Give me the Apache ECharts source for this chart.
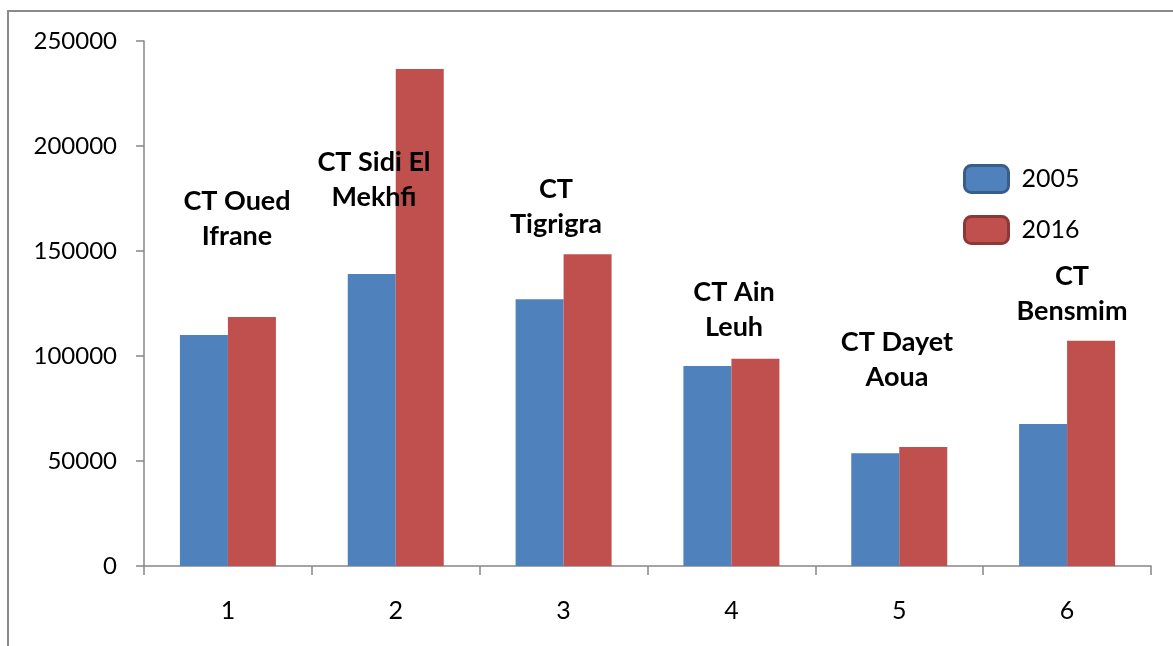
<!DOCTYPE html>
<html>
<head>
<meta charset="utf-8">
<script src="https://cdn.jsdelivr.net/npm/echarts@6/dist/echarts.min.js"></script>
<style>
  html, body { margin: 0; padding: 0; background: #ffffff; }
  #chart { width: 1173px; height: 646px; }
</style>
</head>
<body>
<div id="chart"></div>
<script>
// Station indices along the x axis
const categories = ['1', '2', '3', '4', '5', '6'];
// Values per station for each year
const values2005 = [110000, 139000, 127000, 95200, 53700, 67600];
const values2016 = [118600, 236700, 148400, 98700, 56700, 107300];
// Station names written above each group
const stationNames = [
  'CT Oued\nIfrane',
  'CT Sidi El\nMekhfi',
  'CT\nTigrigra',
  'CT Ain\nLeuh',
  'CT Dayet\nAoua',
  'CT\nBensmim'
];
const yTicks = { min: 0, max: 250000, interval: 50000 };

const FONT = 'Lato';
const AXIS = '#868686';

// Centre of each station name block, in pixels
const namePos = [[237, 219], [374, 180], [556, 207], [734, 310], [897, 360], [1072, 294]];

const chart = echarts.init(document.getElementById('chart'));

chart.setOption({
  animation: false,
  backgroundColor: '#ffffff',
  textStyle: { fontFamily: FONT },
  grid: { left: 144, right: 22, top: 41, bottom: 80, containLabel: false },
  legend: {
    left: 958,
    top: 159,
    orient: 'vertical',
    itemWidth: 44,
    itemHeight: 27,
    itemGap: 21,
    icon: 'roundRect',
    textStyle: { fontFamily: FONT, fontSize: 25, color: '#000', padding: [0, 0, 0, 8] },
    data: [
      { name: '2005', itemStyle: { color: '#4f81bd', borderColor: '#385d8a', borderWidth: 3 } },
      { name: '2016', itemStyle: { color: '#c0504d', borderColor: '#8c3836', borderWidth: 3 } }
    ]
  },
  xAxis: {
    type: 'category',
    data: categories,
    boundaryGap: true,
    axisLine: { lineStyle: { color: AXIS, width: 1.5 } },
    axisTick: { show: true, length: 9, lineStyle: { color: AXIS, width: 1.5 } },
    axisLabel: { margin: 32, fontFamily: FONT, fontSize: 25, color: '#000' },
    splitLine: { show: false }
  },
  yAxis: {
    type: 'value',
    min: yTicks.min,
    max: yTicks.max,
    interval: yTicks.interval,
    axisLine: { show: true, lineStyle: { color: AXIS, width: 1.5 } },
    axisTick: { show: true, length: 8, lineStyle: { color: AXIS, width: 1.5 } },
    axisLabel: {
      margin: 27,
      fontFamily: FONT,
      fontSize: 24,
      color: '#000',
      formatter: (v) => String(v)
    },
    splitLine: { show: false }
  },
  series: [
    {
      name: '2005',
      type: 'bar',
      data: values2005,
      barWidth: 48,
      barGap: '0%',
      itemStyle: { color: '#4f81bd' }
    },
    {
      name: '2016',
      type: 'bar',
      data: values2016,
      barWidth: 48,
      barGap: '0%',
      itemStyle: { color: '#c0504d' }
    }
  ],
  graphic: [
    {
      type: 'rect',
      silent: true,
      shape: { x: 8, y: 11, width: 1200, height: 700 },
      style: { fill: 'none', stroke: '#8a8a8a', lineWidth: 2 },
      z: 0
    }
  ].concat(stationNames.map((name, i) => ({
    type: 'text',
    silent: true,
    x: namePos[i][0],
    y: namePos[i][1],
    z: 10,
    style: {
      text: name,
      fontFamily: FONT,
      fontWeight: 'bold',
      fontSize: 27,
      lineHeight: 35,
      fill: '#000',
      align: 'center',
      verticalAlign: 'middle'
    }
  })))
});
</script>
</body>
</html>
